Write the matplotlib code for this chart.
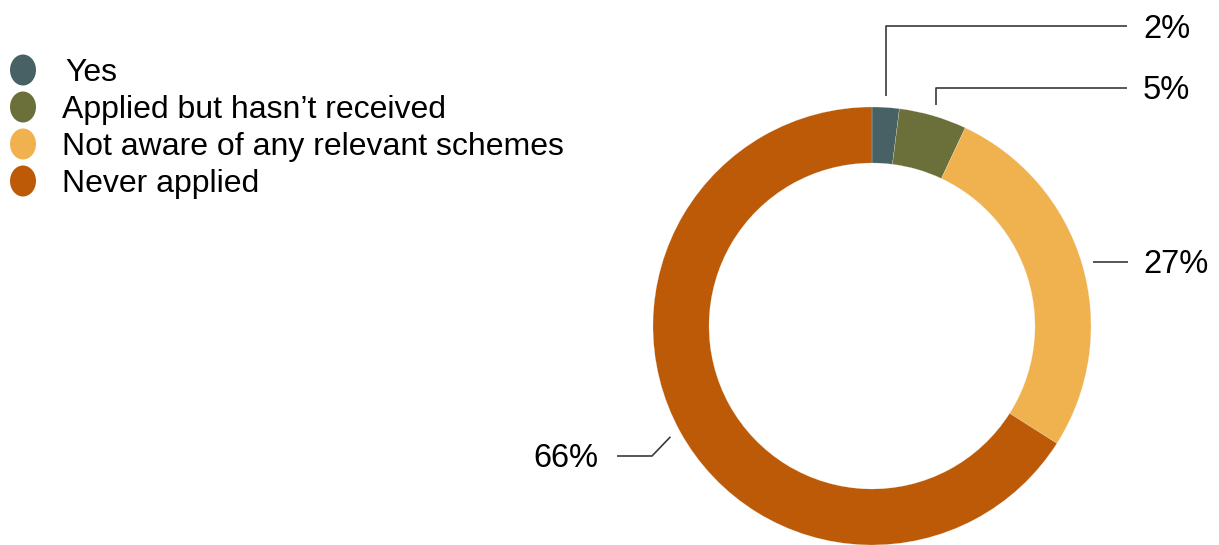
import numpy as np
import matplotlib.pyplot as plt
from matplotlib.patches import Ellipse

plt.rcParams['font.family'] = ['Liberation Sans', 'DejaVu Sans']

# survey answers, clockwise from 12 o'clock
categories = ['Yes', 'Applied but hasn\u2019t received',
              'Not aware of any relevant schemes', 'Never applied']
shares = [2, 5, 27, 66]
colors = ['#486164', '#6b703b', '#f0b24f', '#bc5a07']

W, H = 1219, 545
fig = plt.figure(figsize=(W / 100, H / 100), dpi=100)
ax = fig.add_axes([0, 0, 1, 1])


def py(y):
    # layout is measured from the top edge
    return H - y


cx, cy, R = 872, py(326), 219
wedges, _ = ax.pie(shares, colors=colors, startangle=90, counterclock=False,
                   center=(cx, cy), radius=R, frame=True,
                   wedgeprops=dict(width=56, edgecolor='#f4f0ea', linewidth=0.15))
ax.set_xlim(0, W)
ax.set_ylim(0, H)
ax.set_aspect('equal')
ax.axis('off')

# leader line routing for each slice: extra points after the anchor, text spot
routes = [
    ('up', 26, (1143, 38), 'left'),
    ('up', 88, (1143, 99), 'left'),
    ('flat', None, (1143, 273), 'left'),
    ('elbow', (652, 456, 617), (598, 467), 'right'),
]

for w, share, (kind, arg, (tx, ty), ha) in zip(wedges, shares, routes):
    ang = np.deg2rad((w.theta1 + w.theta2) / 2)
    ax_x = cx + 230 * np.cos(ang)
    ax_y = cy + 230 * np.sin(ang)
    if kind == 'up':
        xs = [ax_x, ax_x, 1127]
        ys = [ax_y, py(arg), py(arg)]
    elif kind == 'flat':
        xs = [ax_x, 1128]
        ys = [ax_y, ax_y]
    else:
        ex, ey, end = arg
        xs = [ax_x, ex, end]
        ys = [ax_y, py(ey), py(ey)]
    ax.plot(xs, ys, color='#3a3a3a', lw=1.2, solid_capstyle='butt')
    ax.text(tx, py(ty), f'{share}%', fontsize=23.5, ha=ha, va='baseline',
            color='black')

# legend with oval markers
leg_y = [70, 107, 144, 181]
for lab, col, y in zip(categories, colors, leg_y):
    ax.add_patch(Ellipse((23, py(y)), 26, 31, color=col, lw=0))
    ax.text(62 if lab != 'Yes' else 65, py(y + 11), lab, fontsize=23,
            va='baseline', ha='left', color='black')

fig.savefig('out.png', dpi=100)
